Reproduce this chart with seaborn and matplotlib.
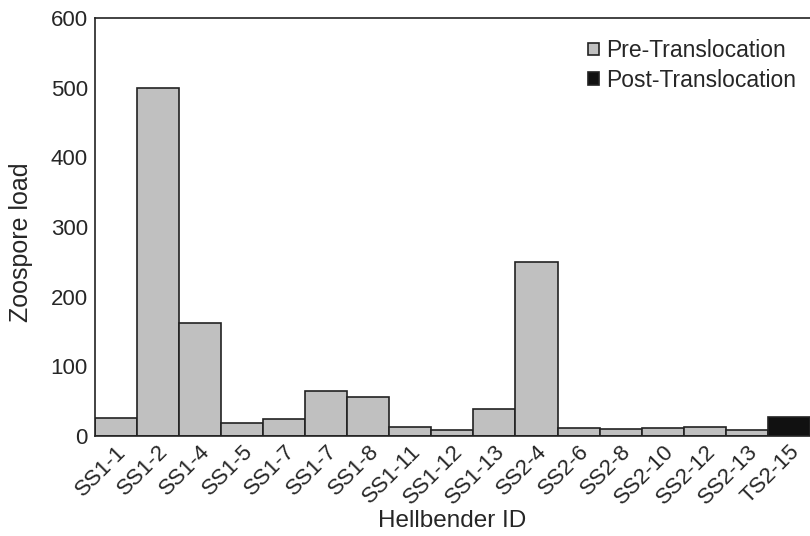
import matplotlib
matplotlib.use("Agg")
import matplotlib.pyplot as plt
import pandas as pd
import seaborn as sns

# Data
hellbender_ids = ["SS1-1", "SS1-2", "SS1-4", "SS1-5", "SS1-7", "SS1-7", "SS1-8", "SS1-11",
                  "SS1-12", "SS1-13", "SS2-4", "SS2-6", "SS2-8", "SS2-10", "SS2-12", "SS2-13", "TS2-15"]
zoospore_load = [26, 500, 162, 19, 24, 65, 55, 13, 8, 38, 250, 11, 10, 11, 13, 9, 27]
period = ["Pre-Translocation"] * 16 + ["Post-Translocation"]

df = pd.DataFrame({
    "slot": [str(i) for i in range(len(hellbender_ids))],
    "load": zoospore_load,
    "Period": period,
})

sns.set_style("white")
plt.rcParams['font.family'] = ['Liberation Sans', 'DejaVu Sans']

fig = plt.figure(figsize=(8.1, 5.36), dpi=100)
ax = fig.add_axes([0.117, 0.187, 0.883, 0.779])

palette = {"Pre-Translocation": "#c0c0c0", "Post-Translocation": "#111111"}
sns.barplot(data=df, x="slot", y="load", hue="Period", palette=palette,
            dodge=False, width=1.0, edgecolor="#222222", linewidth=1.2,
            saturation=1, ax=ax)

ax.set_xlim(-0.5, len(hellbender_ids) - 0.5)
ax.set_ylim(0, 600)
ax.set_yticks(range(0, 601, 100))
ax.set_xticks(range(len(hellbender_ids)))
ax.set_xticklabels(hellbender_ids, rotation=45, ha="right", rotation_mode="anchor", fontsize=16)
ax.tick_params(axis="y", direction="in", length=5, labelsize=16, width=1, color="#333333", pad=5)
ax.tick_params(axis="x", length=0, pad=4)

for side in ["left", "bottom", "top"]:
    ax.spines[side].set_color("#222222")
    ax.spines[side].set_linewidth(1.2)
ax.spines["right"].set_visible(False)

ax.set_xlabel("Hellbender ID", fontsize=17.5, labelpad=1)
ax.set_ylabel("Zoospore load", fontsize=18)
ax.yaxis.set_label_coords(-0.087, 0.464)

ax.legend(loc="upper right", frameon=False, fontsize=16.5, handlelength=0.45,
          handleheight=0.45, handletextpad=0.35, labelspacing=0.3,
          bbox_to_anchor=(1.01, 1.0), title=None)

fig.savefig("out.png", dpi=100)
